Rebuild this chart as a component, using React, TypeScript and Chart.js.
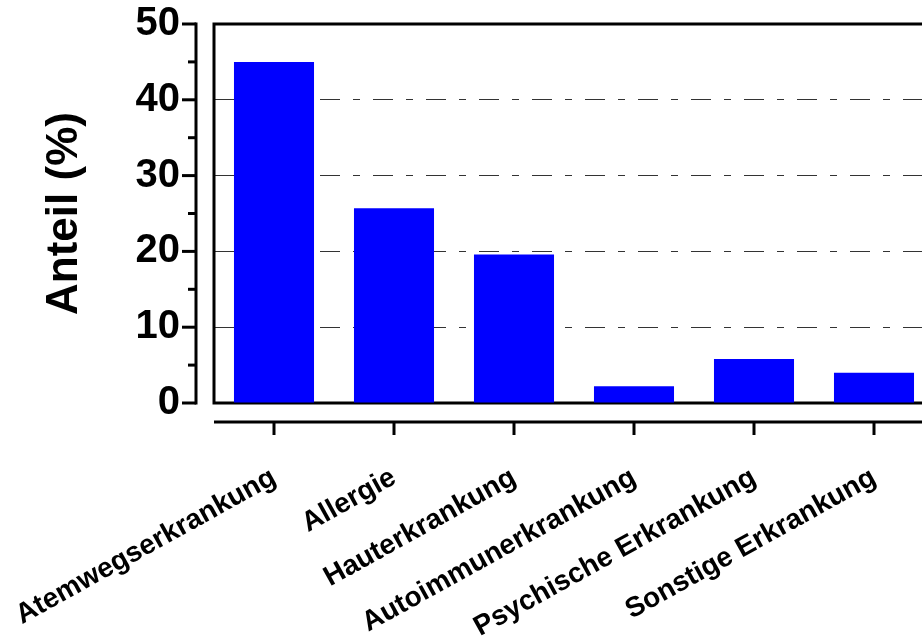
import React, { useEffect, useRef } from 'react';
import { Chart, registerables } from 'chart.js';
Chart.register(...registerables);

const categories = [
  'Atemwegserkrankung',
  'Allergie',
  'Hauterkrankung',
  'Autoimmunerkrankung',
  'Psychische Erkrankung',
  'Sonstige Erkrankung',
];
const values = [45, 25.7, 19.6, 2.2, 5.8, 4.0];
const yMajorTicks = [0, 10, 20, 30, 40, 50];
const yMinorTicks = [5, 15, 25, 35, 45];
const yTitle = 'Anteil (%)';

export default function App() {
  const ref = useRef<HTMLCanvasElement>(null);
  useEffect(() => {
    document.body.style.margin = '0';
    const framePlugin = {
      id: 'frame',
      beforeDatasetsDraw(chart: any) {
        const { ctx, chartArea: a, scales } = chart;
        const y = scales.y;
        const x = scales.x;
        ctx.save();
        ctx.strokeStyle = '#000';
        ctx.lineWidth = 3;
        ctx.lineJoin = 'miter';
        ctx.lineCap = 'butt';
        // plot frame
        ctx.beginPath();
        ctx.moveTo(a.right + 6, a.top);
        ctx.lineTo(a.left, a.top);
        ctx.lineTo(a.left, a.bottom);
        ctx.lineTo(a.right + 6, a.bottom);
        ctx.stroke();
        // y axis line
        const ax = a.left - 18;
        const yTop = y.getPixelForValue(yMajorTicks[yMajorTicks.length - 1]);
        const yBot = y.getPixelForValue(yMajorTicks[0]);
        ctx.beginPath();
        ctx.moveTo(ax, yTop - 1.5);
        ctx.lineTo(ax, yBot + 1.5);
        ctx.stroke();
        for (const v of yMajorTicks) {
          const py = y.getPixelForValue(v);
          ctx.beginPath();
          ctx.moveTo(ax - 14, py);
          ctx.lineTo(ax, py);
          ctx.stroke();
        }
        for (const v of yMinorTicks) {
          const py = y.getPixelForValue(v);
          ctx.beginPath();
          ctx.moveTo(ax - 8, py);
          ctx.lineTo(ax, py);
          ctx.stroke();
        }
        // x axis line
        const xy = a.bottom + 19;
        ctx.beginPath();
        ctx.moveTo(a.left, xy);
        ctx.lineTo(a.right + 6, xy);
        ctx.stroke();
        for (let i = 0; i < categories.length; i++) {
          const px = x.getPixelForTick(i);
          ctx.beginPath();
          ctx.moveTo(px, xy);
          ctx.lineTo(px, xy + 13);
          ctx.stroke();
        }
        ctx.restore();
      },
    };

    const chart = new Chart(ref.current!, {
      type: 'bar',
      data: {
        labels: categories,
        datasets: [
          {
            data: values,
            backgroundColor: '#0000ff',
            borderWidth: 0,
            barPercentage: 0.667,
            categoryPercentage: 1,
          },
        ],
      },
      options: {
        animation: false,
        responsive: false,
        layout: { padding: { top: 24, right: 6, bottom: 0, left: 0 } },
        plugins: { legend: { display: false }, tooltip: { enabled: false } },
        scales: {
          x: {
            grid: { display: false, drawTicks: false },
            border: { display: false },
            ticks: {
              autoSkip: false,
              minRotation: 29,
              maxRotation: 29,
              padding: 58,
              color: '#000',
              font: { family: 'Liberation Sans', weight: 'bold', size: 28 },
            },
            afterFit: (s: any) => {
              s.height = 238;
              s.paddingLeft = 0;
              s.paddingRight = 0;
              s.paddingTop = 0;
              s.paddingBottom = 0;
            },
          },
          y: {
            min: 0,
            max: 50,
            ticks: {
              stepSize: 10,
              padding: 34,
              color: '#000',
              font: { family: 'Liberation Sans', weight: 'bold', size: 40 },
            },
            grid: {
              drawTicks: false,
              lineWidth: 1,
              color: (c: any) =>
                c.tick && (c.tick.value === 0 || c.tick.value === 50) ? 'rgba(0,0,0,0)' : '#333',
            },
            border: { display: false, dash: [20, 13, 7, 13] },
            title: {
              display: true,
              text: yTitle,
              color: '#000',
              padding: { top: 38, bottom: 0 },
              font: { family: 'Liberation Sans', weight: 'bold', size: 44 },
            },
            afterFit: (s: any) => {
              s.width = 214;
              s.paddingLeft = 0;
              s.paddingRight = 0;
              s.paddingTop = 0;
              s.paddingBottom = 0;
            },
          },
        },
      },
      plugins: [framePlugin],
    });
    return () => chart.destroy();
  }, []);

  return (
    <div style={{ width: 922, height: 641, overflow: 'hidden', position: 'relative', background: '#fff' }}>
      <canvas ref={ref} width={940} height={641} style={{ display: 'block' }} />
    </div>
  );
}
